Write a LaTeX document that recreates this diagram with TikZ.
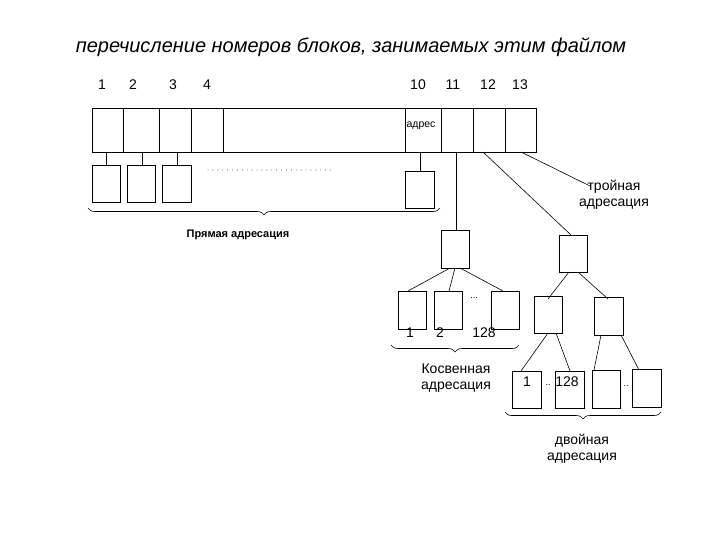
\documentclass[tikz,border=0pt]{standalone}
\usepackage{fontspec}
\setmainfont{Liberation Sans}
\usetikzlibrary{decorations.pathreplacing}
\begin{document}
\begin{tikzpicture}[x=1pt,y=-1pt,
  ln/.style={draw=black,line width=0.6pt},
  br/.style={draw=black,line width=0.6pt,decorate,decoration={brace,amplitude=7pt,mirror}},
  lbl/.style={font=\fontsize{14}{16}\selectfont,inner sep=0pt},
  blk/.style={draw=black,line width=0.6pt,fill=white}]
\useasboundingbox[fill=white] (0,0) rectangle (720,540);
\node[font=\fontsize{20}{22}\selectfont\itshape] (title) at (351,47) {перечисление номеров блоков, занимаемых этим файлом};
% main bar
\draw[ln] (92,108) rectangle (536,152);
\foreach \x in {123,159,191,223,405,441,473,505} \draw[ln] (\x,108) -- (\x,152);
\foreach \x/\t in {102/1,133/2,173/3,207/4,418/10,453/11,488/12,520/13}
  \node[lbl] at (\x,85) {\t};
\node[font=\fontsize{10.5}{11}\selectfont,inner sep=0pt] (adr) at (421,126) {адрес};
% direct
\foreach \n/\a/\b/\c in {d1/92/120/106,d2/127/155/142,d3/162/191/177}{
  \draw[blk] (\a,165) rectangle (\b,202);
  \coordinate (\n) at (\c,165);
  \coordinate (\n t) at (\c,152);
  \draw[ln] (\n t) -- (\n);
}
\foreach \i in {0,...,25} \fill (208+\i*4.9,170) circle (0.45);
\draw[blk] (405,171) rectangle (434,208);
\coordinate (b10) at (420,152); \coordinate (b10b) at (420,171);
\draw[ln] (b10) -- (b10b);
\draw[br] (88,208) -- (440,208);
\node[font=\fontsize{11}{12}\selectfont\bfseries,inner sep=0pt] (pr) at (238,235) {Прямая адресация};
% indirect
\draw[blk] (441,230) rectangle (469,268);
\coordinate (i11) at (456,152); \coordinate (itop) at (456,230);
\draw[ln] (i11) -- (itop);
\draw[blk] (398,291) rectangle (426,329);
\draw[blk] (434,291) rectangle (462,329);
\draw[blk] (491,291) rectangle (519,329);
\draw[ln] (450,268) -- (408,291);
\draw[ln] (455,268) -- (449,291);
\draw[ln] (460,268) -- (503,291);
\node[font=\fontsize{9}{10}\selectfont,inner sep=0pt] at (474,298) {...};
\node[lbl] at (410,333) {1};
\node[lbl] at (440,333) {2};
\node[lbl] at (484,333) {128};
\draw[br] (391,345) -- (519,345);
\node[lbl,align=center] (kos) at (456,378) {Косвенная\\адресация};
% double
\coordinate (i12) at (483,152); \coordinate (dtop) at (571,235);
\draw[ln] (i12) -- (dtop);
\draw[blk] (559,235) rectangle (587,272);
\draw[blk] (534,296) rectangle (562,333);
\draw[blk] (594,297) rectangle (623,335);
\draw[ln] (569,272) -- (548,299);
\draw[ln] (578,272) -- (608,299);
\draw[blk] (512,371) rectangle (541,408);
\draw[blk] (555,371) rectangle (584,408);
\draw[blk] (592,370) rectangle (620,408);
\draw[blk] (632,369) rectangle (661,407);
\draw[ln] (548,333) -- (521,371);
\draw[ln] (556,333) -- (570,371);
\draw[ln] (601,335) -- (594,370);
\draw[ln] (621,335) -- (639,370);
\node[lbl] at (527,382) {1};
\node[font=\fontsize{9}{10}\selectfont,inner sep=0pt] at (548,385) {..};
\node[lbl] at (567,382) {128};
\node[font=\fontsize{9}{10}\selectfont,inner sep=0pt] at (626,386) {..};
\draw[br] (505,412) -- (661,412);
\node[lbl,align=center] (dv) at (582,449) {двойная\\адресация};
% triple
\coordinate (i13) at (521,152);
\node[lbl,align=center] (tr) at (614,195) {тройная\\адресация};
\draw[ln] (i13) -- (590,186);
\end{tikzpicture}
\end{document}
